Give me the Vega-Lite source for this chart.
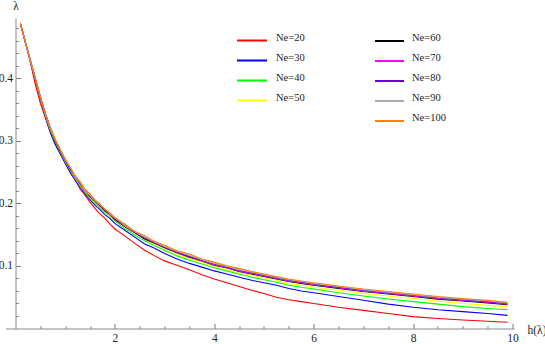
{
  "$schema": "https://vega.github.io/schema/vega-lite/v6.json",
  "autosize": "none",
  "width": 508.5,
  "height": 310.5,
  "padding": {"left": 5.5, "top": 18, "right": 31, "bottom": 15.5},
  "background": "white",
  "config": {"view": {"stroke": null}},
  "data": {"values": [
    {"x":0.1,"Ne20":0.487,"Ne30":0.487,"Ne40":0.487,"Ne50":0.487,"Ne60":0.487,"Ne70":0.487,"Ne80":0.487,"Ne90":0.487,"Ne100":0.487},
    {"x":0.2,"Ne20":0.457,"Ne30":0.457,"Ne40":0.457,"Ne50":0.457,"Ne60":0.457,"Ne70":0.457,"Ne80":0.457,"Ne90":0.457,"Ne100":0.457},
    {"x":0.3,"Ne20":0.425,"Ne30":0.427,"Ne40":0.428,"Ne50":0.428,"Ne60":0.428,"Ne70":0.428,"Ne80":0.428,"Ne90":0.428,"Ne100":0.428},
    {"x":0.4,"Ne20":0.390,"Ne30":0.397,"Ne40":0.398,"Ne50":0.399,"Ne60":0.399,"Ne70":0.399,"Ne80":0.399,"Ne90":0.400,"Ne100":0.399},
    {"x":0.5,"Ne20":0.360,"Ne30":0.367,"Ne40":0.368,"Ne50":0.370,"Ne60":0.370,"Ne70":0.371,"Ne80":0.370,"Ne90":0.371,"Ne100":0.370},
    {"x":0.6,"Ne20":0.337,"Ne30":0.339,"Ne40":0.341,"Ne50":0.342,"Ne60":0.343,"Ne70":0.343,"Ne80":0.344,"Ne90":0.343,"Ne100":0.343},
    {"x":0.7,"Ne20":0.315,"Ne30":0.313,"Ne40":0.317,"Ne50":0.319,"Ne60":0.320,"Ne70":0.320,"Ne80":0.321,"Ne90":0.320,"Ne100":0.321},
    {"x":0.8,"Ne20":0.295,"Ne30":0.294,"Ne40":0.298,"Ne50":0.300,"Ne60":0.300,"Ne70":0.301,"Ne80":0.301,"Ne90":0.302,"Ne100":0.302},
    {"x":0.9,"Ne20":0.280,"Ne30":0.279,"Ne40":0.282,"Ne50":0.284,"Ne60":0.284,"Ne70":0.285,"Ne80":0.285,"Ne90":0.286,"Ne100":0.286},
    {"x":1.0,"Ne20":0.265,"Ne30":0.264,"Ne40":0.267,"Ne50":0.268,"Ne60":0.269,"Ne70":0.269,"Ne80":0.270,"Ne90":0.270,"Ne100":0.271},
    {"x":1.1,"Ne20":0.249,"Ne30":0.250,"Ne40":0.253,"Ne50":0.254,"Ne60":0.255,"Ne70":0.256,"Ne80":0.255,"Ne90":0.257,"Ne100":0.258},
    {"x":1.2,"Ne20":0.238,"Ne30":0.237,"Ne40":0.240,"Ne50":0.241,"Ne60":0.243,"Ne70":0.242,"Ne80":0.244,"Ne90":0.243,"Ne100":0.244},
    {"x":1.3,"Ne20":0.223,"Ne30":0.226,"Ne40":0.228,"Ne50":0.229,"Ne60":0.231,"Ne70":0.232,"Ne80":0.231,"Ne90":0.233,"Ne100":0.235},
    {"x":1.4,"Ne20":0.213,"Ne30":0.215,"Ne40":0.217,"Ne50":0.219,"Ne60":0.220,"Ne70":0.219,"Ne80":0.221,"Ne90":0.220,"Ne100":0.222},
    {"x":1.5,"Ne20":0.202,"Ne30":0.206,"Ne40":0.208,"Ne50":0.210,"Ne60":0.211,"Ne70":0.212,"Ne80":0.211,"Ne90":0.213,"Ne100":0.215},
    {"x":1.6,"Ne20":0.192,"Ne30":0.197,"Ne40":0.200,"Ne50":0.202,"Ne60":0.203,"Ne70":0.204,"Ne80":0.205,"Ne90":0.204,"Ne100":0.205},
    {"x":1.7,"Ne20":0.183,"Ne30":0.190,"Ne40":0.193,"Ne50":0.195,"Ne60":0.196,"Ne70":0.196,"Ne80":0.197,"Ne90":0.198,"Ne100":0.199},
    {"x":1.8,"Ne20":0.176,"Ne30":0.182,"Ne40":0.186,"Ne50":0.188,"Ne60":0.188,"Ne70":0.190,"Ne80":0.189,"Ne90":0.191,"Ne100":0.190},
    {"x":1.9,"Ne20":0.167,"Ne30":0.176,"Ne40":0.179,"Ne50":0.180,"Ne60":0.182,"Ne70":0.182,"Ne80":0.183,"Ne90":0.183,"Ne100":0.185},
    {"x":2.0,"Ne20":0.159,"Ne30":0.168,"Ne40":0.172,"Ne50":0.174,"Ne60":0.174,"Ne70":0.176,"Ne80":0.175,"Ne90":0.177,"Ne100":0.177},
    {"x":2.2,"Ne20":0.148,"Ne30":0.157,"Ne40":0.160,"Ne50":0.162,"Ne60":0.163,"Ne70":0.164,"Ne80":0.165,"Ne90":0.164,"Ne100":0.167},
    {"x":2.4,"Ne20":0.136,"Ne30":0.146,"Ne40":0.149,"Ne50":0.152,"Ne60":0.153,"Ne70":0.153,"Ne80":0.154,"Ne90":0.155,"Ne100":0.155},
    {"x":2.6,"Ne20":0.125,"Ne30":0.135,"Ne40":0.140,"Ne50":0.143,"Ne60":0.143,"Ne70":0.145,"Ne80":0.144,"Ne90":0.146,"Ne100":0.148},
    {"x":2.8,"Ne20":0.116,"Ne30":0.128,"Ne40":0.132,"Ne50":0.135,"Ne60":0.136,"Ne70":0.137,"Ne80":0.138,"Ne90":0.138,"Ne100":0.139},
    {"x":3.0,"Ne20":0.108,"Ne30":0.120,"Ne40":0.125,"Ne50":0.128,"Ne60":0.129,"Ne70":0.130,"Ne80":0.130,"Ne90":0.131,"Ne100":0.133},
    {"x":3.25,"Ne20":0.101,"Ne30":0.111,"Ne40":0.116,"Ne50":0.119,"Ne60":0.121,"Ne70":0.121,"Ne80":0.122,"Ne90":0.123,"Ne100":0.124},
    {"x":3.5,"Ne20":0.094,"Ne30":0.104,"Ne40":0.109,"Ne50":0.112,"Ne60":0.114,"Ne70":0.115,"Ne80":0.115,"Ne90":0.117,"Ne100":0.119},
    {"x":3.75,"Ne20":0.086,"Ne30":0.098,"Ne40":0.103,"Ne50":0.106,"Ne60":0.108,"Ne70":0.108,"Ne80":0.109,"Ne90":0.110,"Ne100":0.111},
    {"x":4.0,"Ne20":0.079,"Ne30":0.092,"Ne40":0.097,"Ne50":0.100,"Ne60":0.101,"Ne70":0.102,"Ne80":0.103,"Ne90":0.104,"Ne100":0.106},
    {"x":4.25,"Ne20":0.073,"Ne30":0.087,"Ne40":0.092,"Ne50":0.094,"Ne60":0.097,"Ne70":0.097,"Ne80":0.098,"Ne90":0.099,"Ne100":0.100},
    {"x":4.5,"Ne20":0.067,"Ne30":0.082,"Ne40":0.087,"Ne50":0.089,"Ne60":0.091,"Ne70":0.092,"Ne80":0.093,"Ne90":0.094,"Ne100":0.096},
    {"x":4.75,"Ne20":0.061,"Ne30":0.077,"Ne40":0.082,"Ne50":0.085,"Ne60":0.087,"Ne70":0.088,"Ne80":0.089,"Ne90":0.090,"Ne100":0.091},
    {"x":5.0,"Ne20":0.056,"Ne30":0.073,"Ne40":0.078,"Ne50":0.081,"Ne60":0.083,"Ne70":0.084,"Ne80":0.085,"Ne90":0.086,"Ne100":0.087},
    {"x":5.25,"Ne20":0.050,"Ne30":0.069,"Ne40":0.074,"Ne50":0.077,"Ne60":0.079,"Ne70":0.080,"Ne80":0.081,"Ne90":0.082,"Ne100":0.083},
    {"x":5.5,"Ne20":0.046,"Ne30":0.064,"Ne40":0.069,"Ne50":0.072,"Ne60":0.075,"Ne70":0.076,"Ne80":0.077,"Ne90":0.078,"Ne100":0.079},
    {"x":5.75,"Ne20":0.043,"Ne30":0.060,"Ne40":0.066,"Ne50":0.069,"Ne60":0.072,"Ne70":0.073,"Ne80":0.074,"Ne90":0.075,"Ne100":0.076},
    {"x":6.0,"Ne20":0.040,"Ne30":0.057,"Ne40":0.063,"Ne50":0.066,"Ne60":0.069,"Ne70":0.070,"Ne80":0.071,"Ne90":0.072,"Ne100":0.073},
    {"x":6.5,"Ne20":0.034,"Ne30":0.051,"Ne40":0.057,"Ne50":0.061,"Ne60":0.064,"Ne70":0.065,"Ne80":0.066,"Ne90":0.067,"Ne100":0.068},
    {"x":7.0,"Ne20":0.029,"Ne30":0.045,"Ne40":0.052,"Ne50":0.056,"Ne60":0.059,"Ne70":0.060,"Ne80":0.061,"Ne90":0.062,"Ne100":0.063},
    {"x":7.5,"Ne20":0.024,"Ne30":0.039,"Ne40":0.047,"Ne50":0.052,"Ne60":0.055,"Ne70":0.056,"Ne80":0.057,"Ne90":0.058,"Ne100":0.059},
    {"x":8.0,"Ne20":0.019,"Ne30":0.034,"Ne40":0.043,"Ne50":0.048,"Ne60":0.051,"Ne70":0.052,"Ne80":0.053,"Ne90":0.054,"Ne100":0.055},
    {"x":8.5,"Ne20":0.016,"Ne30":0.030,"Ne40":0.039,"Ne50":0.044,"Ne60":0.047,"Ne70":0.048,"Ne80":0.049,"Ne90":0.050,"Ne100":0.051},
    {"x":9.0,"Ne20":0.0135,"Ne30":0.027,"Ne40":0.035,"Ne50":0.040,"Ne60":0.044,"Ne70":0.045,"Ne80":0.046,"Ne90":0.047,"Ne100":0.048},
    {"x":9.5,"Ne20":0.0115,"Ne30":0.024,"Ne40":0.032,"Ne50":0.037,"Ne60":0.041,"Ne70":0.042,"Ne80":0.043,"Ne90":0.044,"Ne100":0.045},
    {"x":9.9,"Ne20":0.010,"Ne30":0.021,"Ne40":0.030,"Ne50":0.035,"Ne60":0.038,"Ne70":0.039,"Ne80":0.040,"Ne90":0.041,"Ne100":0.042}
  ]},
  "transform": [
    {"fold": ["Ne20","Ne30","Ne40","Ne50","Ne60","Ne70","Ne80","Ne90","Ne100"], "as": ["series","lambda"]}
  ],
  "encoding": {
    "x": {
      "field": "x", "type": "quantitative",
      "scale": {"domain": [-0.2, 10.03], "nice": false, "zero": false},
      "axis": {
        "values": [0.5,1,1.5,2,2.5,3,3.5,4,4.5,5,5.5,6,6.5,7,7.5,8,8.5,9,9.5,10],
        "labelExpr": "datum.value % 2 === 0 ? format(datum.value, 'd') : ''",
        "tickSize": {"condition": {"test": "datum.value % 2 === 0", "value": -5}, "value": -2.7},
        "tickColor": "#7a7a7a", "domainColor": "#8a8a8a", "tickWidth": 1, "domainWidth": 1,
        "grid": false, "labelFont": "Liberation Serif", "labelFontSize": 11.5, "labelColor": "#222",
        "labelPadding": 9, "labelFlush": false, "labelOverlap": false,
        "title": "h(λ)", "titleFont": "Liberation Serif", "titleFontSize": 11.5, "titleFontWeight": "normal",
        "titleColor": "#222", "titleAnchor": null, "titleX": 521.5, "titleY": 1.5, "titleAlign": "left", "titleBaseline": "middle"
      }
    },
    "y": {
      "field": "lambda", "type": "quantitative",
      "scale": {"domain": [0, 0.496], "nice": false},
      "axis": {
        "values": [0.02,0.04,0.06,0.08,0.1,0.12,0.14,0.16,0.18,0.2,0.22,0.24,0.26,0.28,0.3,0.32,0.34,0.36,0.38,0.4,0.42,0.44,0.46,0.48],
        "labelExpr": "round(datum.value * 100) % 10 === 0 ? format(datum.value, '.1f') : ''",
        "tickSize": {"condition": {"test": "round(datum.value * 100) % 10 === 0", "value": -5}, "value": -2.7},
        "tickColor": "#7a7a7a", "domainColor": "#8a8a8a", "tickWidth": 1, "domainWidth": 1,
        "offset": -10,
        "grid": false, "labelFont": "Liberation Serif", "labelFontSize": 11.5, "labelColor": "#222",
        "labelPadding": 8, "labelFlush": false, "labelOverlap": false,
        "title": "λ", "titleFont": "Liberation Serif", "titleFontSize": 11.5, "titleFontWeight": "normal",
        "titleColor": "#222", "titleAnchor": null, "titleAngle": 0, "titleX": 0, "titleY": -11.5, "titleAlign": "center", "titleBaseline": "middle"
      }
    }
  },
  "layer": [
    {
      "transform": [{"filter": {"field": "series", "oneOf": ["Ne20","Ne30","Ne40","Ne50"]}}],
      "mark": {"type": "line", "strokeWidth": 1.1},
      "encoding": {
        "color": {
          "field": "series", "type": "nominal",
          "scale": {"domain": ["Ne20","Ne30","Ne40","Ne50"], "range": ["#ff0000","#0000ff","#00ff00","#ffff00"]},
          "legend": {
            "orient": "none", "legendX": 230.5, "legendY": 6.5, "title": null, "padding": 0,
            "symbolType": "stroke", "symbolSize": 900, "symbolStrokeWidth": 2,
            "labelOffset": 8, "labelFont": "Liberation Serif", "labelFontSize": 10.5, "labelColor": "#222",
            "labelBaseline": "alphabetic", "rowPadding": -2.7,
            "labelExpr": "replace(datum.label, 'Ne', 'Ne=')"
          }
        }
      }
    },
    {
      "transform": [{"filter": {"field": "series", "oneOf": ["Ne60","Ne70","Ne80","Ne90","Ne100"]}}],
      "mark": {"type": "line", "strokeWidth": 1.1},
      "encoding": {
        "color": {
          "field": "series", "type": "nominal",
          "scale": {"domain": ["Ne60","Ne70","Ne80","Ne90","Ne100"], "range": ["#000000","#ff00ff","#6a00d8","#aaaaaa","#ff8000"]},
          "legend": {
            "orient": "none", "legendX": 368.5, "legendY": 7.5, "title": null, "padding": 0,
            "symbolType": "stroke", "symbolSize": 841, "symbolStrokeWidth": 2,
            "labelOffset": 7, "labelFont": "Liberation Serif", "labelFontSize": 10.5, "labelColor": "#222",
            "labelBaseline": "alphabetic", "rowPadding": -0.3,
            "labelExpr": "replace(datum.label, 'Ne', 'Ne=')"
          }
        }
      }
    }
  ],
  "resolve": {"scale": {"color": "independent"}}
}
